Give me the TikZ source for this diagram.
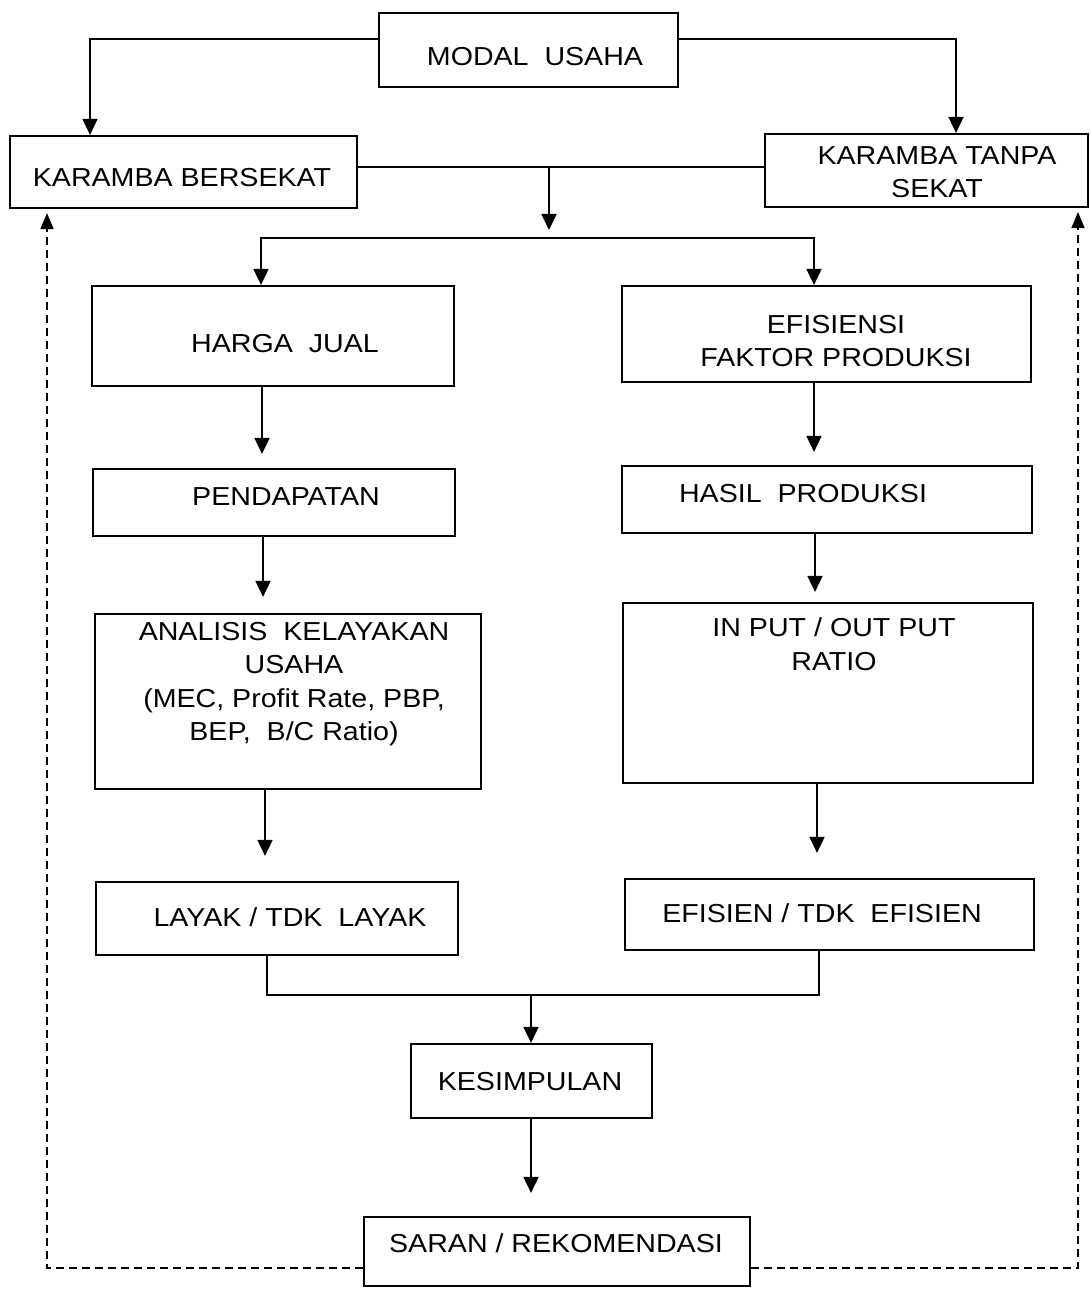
\documentclass[tikz,border=0pt]{standalone}
\usepackage{fontspec}
\setmainfont{Liberation Sans}[FakeStretch=1.1]
\usetikzlibrary{arrows.meta,fit}
\begin{document}
\begin{tikzpicture}[x=1pt,y=-1pt,
  box/.style={draw, line width=2.2pt, inner sep=0pt, rectangle},
  lbl/.style={inner sep=0pt, align=center, font=\fontsize{26}{33.5}\selectfont},
  conn/.style={line width=1.8pt},
  arr/.style={conn, -{Triangle[length=16pt,width=15pt]}},
  darr/.style={line width=1.6pt, dash pattern=on 8pt off 5pt, -{Triangle[length=16pt,width=13pt]}}
]
\useasboundingbox (0,0) rectangle (1090,1289);

% boxes
\node[box, fit={(379,13) (678,87)}] (modal) {};
\node[box, fit={(10,136) (357,208)}] (bersekat) {};
\node[box, fit={(765,134) (1088,207)}] (tanpa) {};
\node[box, fit={(92,286) (454,386)}] (harga) {};
\node[box, fit={(622,286) (1031,382)}] (efis) {};
\node[box, fit={(93,469) (455,536)}] (pend) {};
\node[box, fit={(622,466) (1032,533)}] (hasil) {};
\node[box, fit={(95,614) (481,789)}] (anal) {};
\node[box, fit={(623,603) (1033,783)}] (input) {};
\node[box, fit={(96,882) (458,955)}] (layak) {};
\node[box, fit={(625,879) (1034,950)}] (efisien) {};
\node[box, fit={(411,1044) (652,1118)}] (kesim) {};
\node[box, fit={(364,1217) (750,1286)}] (saran) {};

% labels
\node[lbl] (modal-t) at (535,57) {MODAL\ \ USAHA};
\node[lbl] (bersekat-t) at (182,178) {KARAMBA BERSEKAT};
\node[lbl] (tanpa-t) at (937,172) {KARAMBA TANPA\\SEKAT};
\node[lbl] (harga-t) at (285,344) {HARGA\ \ JUAL};
\node[lbl] (efis-t) at (836,341) {EFISIENSI\\ FAKTOR PRODUKSI};
\node[lbl] (pend-t) at (286,497) {PENDAPATAN};
\node[lbl] (hasil-t) at (803,494) {HASIL\ \ PRODUKSI};
\node[lbl] (anal-t) at (294,684) {ANALISIS\ \ KELAYAKAN\\USAHA\\(MEC, Profit Rate, PBP,\\BEP,\ \ B/C Ratio)};
\node[lbl] (input-t) at (834,644) {IN PUT / OUT PUT\\RATIO};
\node[lbl] (layak-t) at (290,917) {LAYAK / TDK\ \ LAYAK};
\node[lbl] (efisien-t) at (822,913) {EFISIEN / TDK\ \ EFISIEN};
\node[lbl] (kesim-t) at (530,1082) {KESIMPULAN};
\node[lbl] (saran-t) at (556,1243) {SARAN / REKOMENDASI};

% helper coordinates
\coordinate (jn1) at (549,167);
\coordinate (split) at (549,238);
\coordinate (mL) at (267,995);
\coordinate (mR) at (819,995);
\coordinate (mC) at (531,995);

% connectors
\draw[arr] (modal.west |- 0,39) -| (bersekat.north -| 90,0);
\draw[arr] (modal.east |- 0,39) -| (tanpa.north -| 956,0);
\draw[conn] (bersekat.east |- 0,167) -- (tanpa.west |- 0,167);
\draw[arr, shorten >=8pt] (jn1) -- (split);
\draw[arr] (split) -| (harga.north -| 261,0);
\draw[arr] (split) -| (efis.north -| 814,0);
\draw[arr, shorten >=14pt] (harga.south -| 262,0) -- (pend.north -| 262,0);
\draw[arr, shorten >=16pt] (pend.south -| 263,0) -- (anal.north -| 263,0);
\draw[arr, shorten >=25pt] (anal.south -| 265,0) -- (layak.north -| 265,0);
\draw[arr, shorten >=13pt] (efis.south -| 814,0) -- (hasil.north -| 814,0);
\draw[arr, shorten >=10pt] (hasil.south -| 815,0) -- (input.north -| 815,0);
\draw[arr, shorten >=25pt] (input.south -| 817,0) -- (efisien.north -| 817,0);
\draw[conn] (layak.south -| mL) -- (mL) -- (mR) -- (efisien.south -| mR);
\draw[arr] (mC) -- (kesim.north -| mC);
\draw[arr, shorten >=23pt] (kesim.south -| 531,0) -- (saran.north -| 531,0);
\draw[darr, shorten >=4pt] (saran.west |- 0,1268) -| (bersekat.south -| 47,0);
\draw[darr, shorten >=4pt] (saran.east |- 0,1268) -| (tanpa.south -| 1078,0);
\end{tikzpicture}
\end{document}
